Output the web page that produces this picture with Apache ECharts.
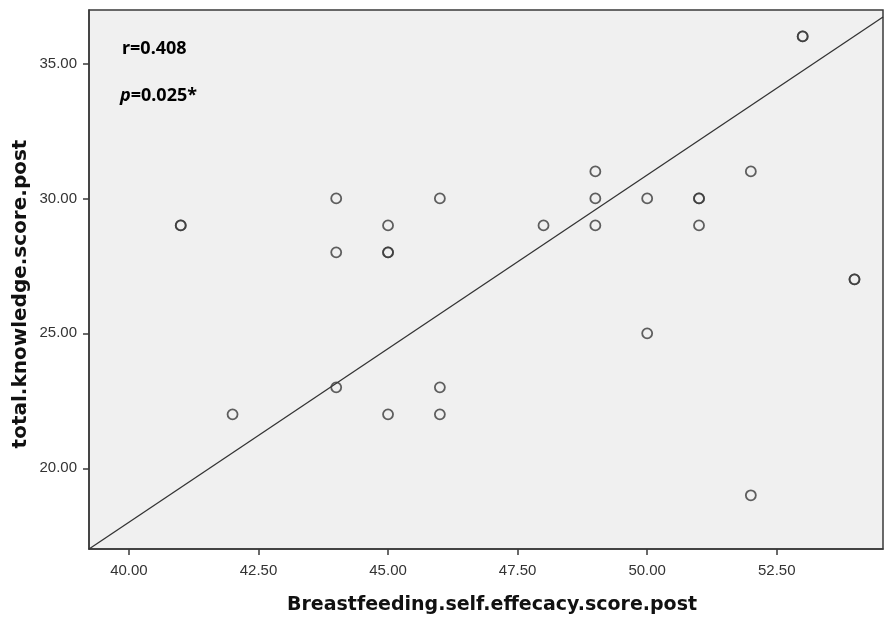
<!DOCTYPE html>
<html><head><meta charset="utf-8">
<script src="https://cdn.jsdelivr.net/npm/echarts@6/dist/echarts.min.js"></script>
<style>html,body{margin:0;padding:0;background:#fff}#c{width:884px;height:619px}</style>
</head><body><div id="c"></div>
<script>
const efficacy  = [41,41,42,44,44,44,45,45,45,45,46,46,46,48,49,49,49,50,50,51,51,51,52,52,53,53,54,54];
const knowledge = [29,29,22,30,28,23,29,28,28,22,30,23,22,29,31,30,29,30,25,30,30,29,31,19,36,36,27,27];
const xTicks = [40, 42.5, 45, 47.5, 50, 52.5];
const yTicks = [20, 25, 30, 35];
const fitX = [39.23, 54.55];
const fitY = [17.01, 36.72];
const xTitle = 'Breastfeeding.self.effecacy.score.post';
const yTitle = 'total.knowledge.score.post';

const chart = echarts.init(document.getElementById('c'), null, {renderer:'canvas'});
const tickStyle = {show:true, length:6, lineStyle:{color:'#3a3a3a', width:1.5}};
const labelStyle = {color:'#333', fontFamily:'Liberation Sans', fontSize:15, formatter:v=>v.toFixed(2)};
chart.setOption({
  animation:false,
  grid:{left:89, top:10, right:1, bottom:70, show:true, backgroundColor:'#f0f0f0',
        borderColor:'#3a3a3a', borderWidth:1.5},
  xAxis:{type:'value', min:39.23, max:54.55, splitLine:{show:false},
    axisLine:{show:true, onZero:false, lineStyle:{color:'#3a3a3a', width:1.5}},
    axisTick:Object.assign({}, tickStyle, {customValues:xTicks}),
    axisLabel:Object.assign({}, labelStyle, {customValues:xTicks, margin:14})},
  yAxis:{type:'value', min:17.01, max:36.98, splitLine:{show:false},
    axisLine:{show:true, onZero:false, lineStyle:{color:'#3a3a3a', width:1.5}},
    axisTick:Object.assign({}, tickStyle, {customValues:yTicks}),
    axisLabel:Object.assign({}, labelStyle, {customValues:yTicks, margin:12})},
  series:[
    {type:'line', data:fitX.map((x,i)=>[x,fitY[i]]), symbol:'none', silent:true,
     lineStyle:{color:'#333', width:1.3}, z:2},
    {type:'scatter', data:efficacy.map((x,i)=>[x,knowledge[i]]), symbol:'circle', symbolSize:10,
     itemStyle:{color:'rgba(0,0,0,0)', borderColor:'#3a3a3a', borderWidth:1.8}, z:3}
  ],
  graphic:[
    {type:'text', x:122, y:49, style:{text:'r=0.408', fontFamily:'Noto Sans', fontWeight:'bold', fontSize:18, fill:'#000', verticalAlign:'middle'}},
    {type:'text', x:120, y:96, style:{text:'{i|p}=0.025*', fontFamily:'Noto Sans', fontWeight:'bold', fontSize:18, fill:'#000', verticalAlign:'middle',
      rich:{i:{fontFamily:'Noto Sans', fontWeight:'bold', fontStyle:'italic', fontSize:18, fill:'#000'}}}},
    {type:'text', x:492, y:605, style:{text:xTitle, fontFamily:'DejaVu Sans', fontWeight:'bold', fontSize:19, fill:'#111', align:'center', verticalAlign:'middle'}},
    {type:'text', x:21, y:294, rotation:Math.PI/2, style:{text:yTitle, fontFamily:'DejaVu Sans', fontWeight:'bold', fontSize:20, fill:'#111', align:'center', verticalAlign:'middle'}}
  ]
});
</script></body></html>
